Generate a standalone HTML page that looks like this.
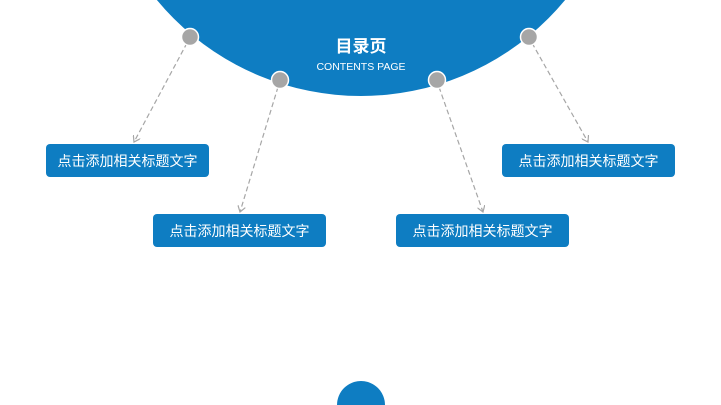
<!DOCTYPE html>
<html><head><meta charset="utf-8"><style>
html,body{margin:0;padding:0;background:#fff;width:721px;height:405px;overflow:hidden}
svg{display:block}
</style></head><body>
<svg width="721" height="405" viewBox="0 0 721 405" xmlns="http://www.w3.org/2000/svg">
<defs><marker id="a" markerWidth="8" markerHeight="8" refX="6" refY="4" orient="auto" markerUnits="userSpaceOnUse"><path d="M0,0 L6,4 L0,8" fill="none" stroke="#a6a6a6" stroke-width="1.2"/></marker></defs>
<circle cx="361" cy="-169" r="265" fill="#0e7dc2"/>
<text x="361" y="52" text-anchor="middle" font-family="Liberation Sans, Noto Sans CJK SC, sans-serif" font-size="17" font-weight="bold" fill="#fff">目录页</text>
<text x="361" y="70" text-anchor="middle" font-family="Liberation Sans, sans-serif" font-size="10.5" fill="#fff">CONTENTS PAGE</text>
<g stroke="#a6a6a6" stroke-width="1.2" stroke-dasharray="5,3" fill="none">
<line x1="187" y1="43" x2="134" y2="142" marker-end="url(#a)"/>
<line x1="278" y1="87" x2="240" y2="212" marker-end="url(#a)"/>
<line x1="439" y1="87" x2="483" y2="212" marker-end="url(#a)"/>
<line x1="532" y1="43" x2="588" y2="142" marker-end="url(#a)"/>
</g>
<g fill="#a6a6a6" stroke="#fff" stroke-width="1.5">
<circle cx="190" cy="37" r="8.5"/><circle cx="280" cy="80" r="8.5"/><circle cx="437" cy="80" r="8.5"/><circle cx="529" cy="37" r="8.5"/>
</g>
<g fill="#0e7dc2">
<rect x="46" y="144" width="163" height="33" rx="4"/>
<rect x="153" y="214" width="173" height="33" rx="4"/>
<rect x="396" y="214" width="173" height="33" rx="4"/>
<rect x="502" y="144" width="173" height="33" rx="4"/>
</g>
<g font-family="Liberation Sans, Noto Sans CJK SC, sans-serif" font-size="14" fill="#fff" text-anchor="middle">
<text x="127.5" y="166">点击添加相关标题文字</text>
<text x="239.5" y="236">点击添加相关标题文字</text>
<text x="482.5" y="236">点击添加相关标题文字</text>
<text x="588.5" y="166">点击添加相关标题文字</text>
</g>
<circle cx="361" cy="405" r="24" fill="#0e7dc2"/>
</svg>
</body></html>
